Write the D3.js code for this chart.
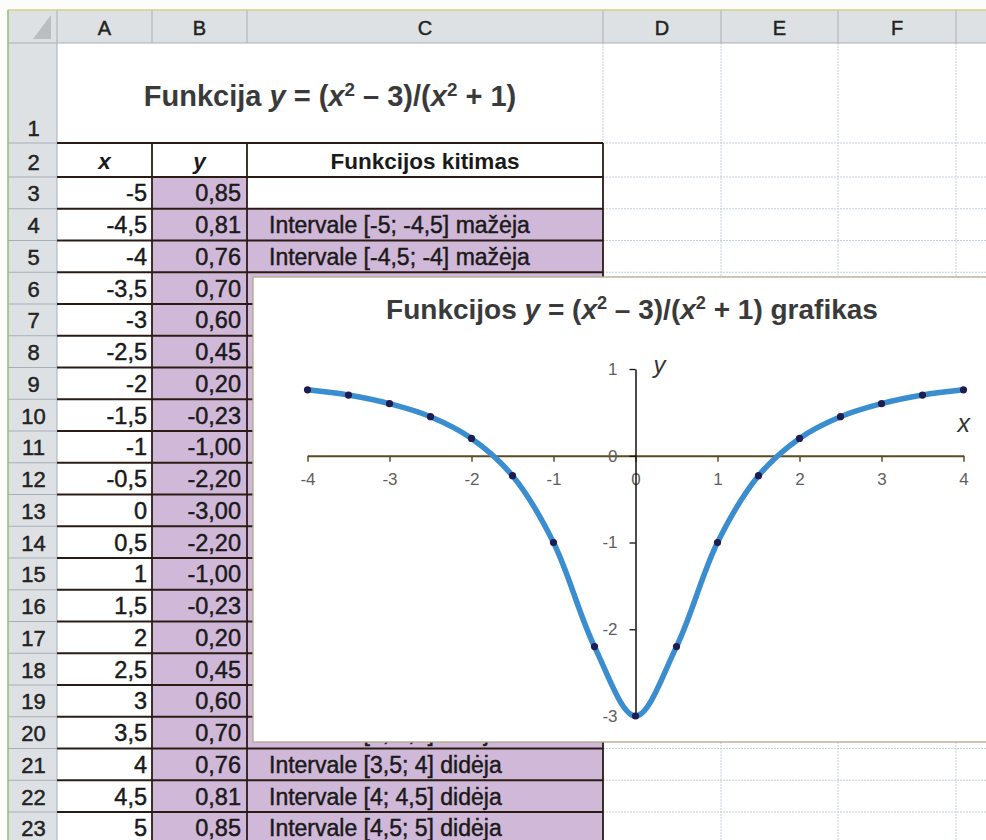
<!DOCTYPE html>
<html>
<head>
<meta charset="utf-8">
<script src="https://cdn.jsdelivr.net/npm/d3@7"></script>
<style>
  body { margin: 0; background: #ffffff; }
  svg { display: block; }
  text { font-family: "Liberation Sans", Arial, sans-serif; }
  .ink { stroke-width: 0.45px; paint-order: stroke; }
</style>
</head>
<body>
<svg id="sheet" width="986" height="840"></svg>
<script>
// ---- worksheet data ----
const columnLetters = ["A", "B", "C", "D", "E", "F"];
const xValues = [-5, -4.5, -4, -3.5, -3, -2.5, -2, -1.5, -1, -0.5, 0, 0.5, 1, 1.5, 2, 2.5, 3, 3.5, 4, 4.5, 5];
const yValues = [0.85, 0.81, 0.76, 0.70, 0.60, 0.45, 0.20, -0.23, -1.00, -2.20, -3.00, -2.20, -1.00, -0.23, 0.20, 0.45, 0.60, 0.70, 0.76, 0.81, 0.85];
const trendText = [
  "",
  "Intervale [-5; -4,5] mažėja",
  "Intervale [-4,5; -4] mažėja",
  "Intervale [-4; -3,5] mažėja",
  "Intervale [-3,5; -3] mažėja",
  "Intervale [-3; -2,5] mažėja",
  "Intervale [-2,5; -2] mažėja",
  "Intervale [-2; -1,5] mažėja",
  "Intervale [-1,5; -1] mažėja",
  "Intervale [-1; -0,5] mažėja",
  "Intervale [-0,5; 0] mažėja",
  "Intervale [0; 0,5] didėja",
  "Intervale [0,5; 1] didėja",
  "Intervale [1; 1,5] didėja",
  "Intervale [1,5; 2] didėja",
  "Intervale [2; 2,5] didėja",
  "Intervale [2,5; 3] didėja",
  "Intervale [3; 3,5] didėja",
  "Intervale [3,5; 4] didėja",
  "Intervale [4; 4,5] didėja",
  "Intervale [4,5; 5] didėja"
];
const headerLabels = ["x", "y", "Funkcijos kitimas"];

// ---- chart axes ----
const xTicks = [-4, -3, -2, -1, 0, 1, 2, 3, 4];
const yTicks = [-3, -2, -1, 0, 1];

// ---- sheet geometry ----
const W = 986, H = 840;
const sheetLeft = 8, sheetTop = 10, headerBottom = 43, rowHeadRight = 57;
const colEdges = [57, 152, 247, 603, 721, 838, 956, 1074];
const rowCount = 23;
function rowTop(r) {
  if (r === 1) return headerBottom;
  if (r === 2) return 143;
  return 177 + (r - 3) * 31.75;
}
const rowBottom = r => rowTop(r + 1);

// embedded chart frame
const frame = { left: 253, top: 277, width: 800, height: 465 };

const lilac = "#d0b8d9";
const headFill = "#dde1e4";
const headLine = "#a7afb6";
const gridLine = "#c4d0d9";
const border = "#2a1c14";
const ink = "#1a1a1a";

const svg = d3.select("#sheet");
svg.append("rect").attr("width", W).attr("height", H).attr("fill", "#fcfcfb");

// cell area
svg.append("rect").attr("x", rowHeadRight).attr("y", headerBottom)
  .attr("width", W - rowHeadRight).attr("height", H - headerBottom).attr("fill", "#ffffff");

// light gridlines outside the table
const grid = svg.append("g").attr("stroke", gridLine).attr("stroke-width", 1).attr("stroke-dasharray", "2,1");
d3.range(1, rowCount + 1).forEach(r => {
  const yb = rowBottom(r);
  grid.append("line").attr("x1", colEdges[3]).attr("x2", W).attr("y1", yb).attr("y2", yb);
});
colEdges.slice(3).forEach(cx => {
  grid.append("line").attr("x1", cx).attr("x2", cx).attr("y1", headerBottom).attr("y2", H);
});

// column header band
svg.append("rect").attr("x", sheetLeft).attr("y", sheetTop)
  .attr("width", W - sheetLeft).attr("height", headerBottom - sheetTop).attr("fill", headFill);
// row header band
svg.append("rect").attr("x", sheetLeft).attr("y", headerBottom)
  .attr("width", rowHeadRight - sheetLeft).attr("height", H - headerBottom).attr("fill", headFill);

const heads = svg.append("g").attr("stroke", headLine).attr("stroke-width", 1);
colEdges.forEach(cx => heads.append("line").attr("x1", cx).attr("x2", cx).attr("y1", sheetTop).attr("y2", headerBottom));
d3.range(1, rowCount + 1).forEach(r => {
  const yb = rowBottom(r);
  heads.append("line").attr("x1", sheetLeft).attr("x2", rowHeadRight).attr("y1", yb).attr("y2", yb);
});
heads.append("line").attr("x1", sheetLeft).attr("x2", W).attr("y1", headerBottom).attr("y2", headerBottom);
heads.append("line").attr("x1", rowHeadRight).attr("x2", rowHeadRight).attr("y1", headerBottom).attr("y2", H);
svg.append("line").attr("x1", sheetLeft).attr("x2", W).attr("y1", sheetTop).attr("y2", sheetTop)
  .attr("stroke", "#d6cf86").attr("stroke-width", 1.5);
svg.append("line").attr("x1", sheetLeft).attr("x2", sheetLeft).attr("y1", sheetTop).attr("y2", H)
  .attr("stroke", "#93bd72").attr("stroke-width", 1.5);
// select-all triangle
svg.append("path")
  .attr("d", `M${rowHeadRight - 6},${sheetTop + 5} L${rowHeadRight - 6},${headerBottom - 4} L${rowHeadRight - 24},${headerBottom - 4} Z`)
  .attr("fill", "#b9bec2");

// column letters
svg.append("g").selectAll("text").data(columnLetters).join("text")
  .attr("class", "ink").attr("stroke", "#222")
  .attr("x", (d, i) => (colEdges[i] + colEdges[i + 1]) / 2)
  .attr("y", 35)
  .attr("text-anchor", "middle")
  .attr("font-size", 20).attr("fill", "#222")
  .text(d => d);

// row numbers
svg.append("g").selectAll("text").data(d3.range(1, rowCount + 1)).join("text")
  .attr("class", "ink").attr("stroke", "#222")
  .attr("x", (sheetLeft + rowHeadRight) / 2 + 1)
  .attr("y", r => rowBottom(r) - 7.5)
  .attr("text-anchor", "middle")
  .attr("font-size", 22).attr("fill", "#222")
  .text(r => r);

// table fills
const dataRows = d3.range(3, rowCount + 1);
svg.append("g").selectAll("rect").data(dataRows).join("rect")
  .attr("x", colEdges[1]).attr("y", r => rowTop(r))
  .attr("width", colEdges[2] - colEdges[1]).attr("height", r => rowBottom(r) - rowTop(r))
  .attr("fill", lilac);
svg.append("g").selectAll("rect").data(dataRows.slice(1)).join("rect")
  .attr("x", colEdges[2]).attr("y", r => rowTop(r))
  .attr("width", colEdges[3] - colEdges[2]).attr("height", r => rowBottom(r) - rowTop(r))
  .attr("fill", lilac);

// formula text with italic variables and superscripts
function formula(t, head, tail) {
  t.append("tspan").text(head);
  t.append("tspan").attr("font-style", "italic").text("y");
  t.append("tspan").text(" = (");
  t.append("tspan").attr("font-style", "italic").text("x");
  t.append("tspan").attr("font-size", "0.65em").attr("dy", "-0.55em").text("2");
  t.append("tspan").attr("dy", "0.36em").text(" – 3)/(");
  t.append("tspan").attr("font-style", "italic").text("x");
  t.append("tspan").attr("font-size", "0.65em").attr("dy", "-0.55em").text("2");
  t.append("tspan").attr("dy", "0.36em").text(" + 1)" + tail);
}

// table title (row 1)
svg.append("text")
  .attr("x", (colEdges[0] + colEdges[3]) / 2).attr("y", 106)
  .attr("text-anchor", "middle").attr("font-size", 29).attr("font-weight", "bold").attr("fill", "#3a3a3a")
  .call(t => formula(t, "Funkcija ", ""));

// header row
svg.append("g").selectAll("text").data(headerLabels).join("text")
  .attr("x", (d, i) => (colEdges[i] + colEdges[i + 1]) / 2)
  .attr("y", rowBottom(2) - 8)
  .attr("text-anchor", "middle")
  .attr("font-size", 22.5).attr("font-weight", "bold")
  .attr("font-style", (d, i) => i < 2 ? "italic" : "normal")
  .attr("fill", ink)
  .text(d => d);

const comma = v => String(v).replace(".", ",");
svg.append("g").selectAll("text").data(xValues).join("text")
  .attr("class", "ink").attr("stroke", ink)
  .attr("x", colEdges[1] - 5).attr("y", (d, i) => rowBottom(i + 3) - 7.5)
  .attr("text-anchor", "end").attr("font-size", 23.5).attr("fill", ink)
  .text(d => comma(d));
svg.append("g").selectAll("text").data(yValues).join("text")
  .attr("class", "ink").attr("stroke", ink)
  .attr("x", colEdges[2] - 6).attr("y", (d, i) => rowBottom(i + 3) - 7.5)
  .attr("text-anchor", "end").attr("font-size", 23.5).attr("fill", ink)
  .text(d => d.toFixed(2).replace(".", ","));

// column C notes; rows lying wholly under the chart frame are not drawn
const noteRows = trendText
  .map((t, i) => ({ t, base: rowBottom(i + 3) - 7.5 }))
  .filter(d => d.t && (d.base < frame.top + 10 || d.base + 6 > frame.top + frame.height));
svg.append("g").selectAll("text").data(noteRows).join("text")
  .attr("class", "ink").attr("stroke", ink)
  .attr("x", colEdges[2] + 22).attr("y", d => d.base)
  .attr("font-size", 23).attr("fill", ink)
  .text(d => d.t);

// table borders
const tb = svg.append("g").attr("stroke", border).attr("stroke-width", 1.8);
d3.range(2, rowCount + 1).forEach(r => {
  tb.append("line").attr("x1", colEdges[0]).attr("x2", colEdges[3]).attr("y1", rowTop(r)).attr("y2", rowTop(r));
});
colEdges.slice(1, 4).forEach(cx => {
  tb.append("line").attr("x1", cx).attr("x2", cx).attr("y1", rowTop(2)).attr("y2", H);
});

// ---- embedded chart ----
const chart = svg.append("g");
chart.append("rect").attr("x", frame.left).attr("y", frame.top).attr("width", frame.width).attr("height", frame.height)
  .attr("fill", "#ffffff").attr("stroke", "#b3a78e").attr("stroke-width", 1.3);

chart.append("text").attr("x", 632).attr("y", 319)
  .attr("text-anchor", "middle").attr("font-size", 28).attr("font-weight", "bold").attr("fill", "#3a3a3a")
  .call(t => formula(t, "Funkcijos ", " grafikas"));

const x = d3.scaleLinear().domain([-4, 4]).range([307.5, 963.5]);
const y = d3.scaleLinear().domain([-3, 1]).range([716, 369]);

const xAxis = chart.append("g").attr("transform", `translate(0,${y(0)})`)
  .call(d3.axisBottom(x).tickValues(xTicks).tickSize(6).tickPadding(11).tickSizeOuter(0).tickFormat(d => String(d)));
xAxis.select(".domain").attr("stroke", "#5c4a22").attr("stroke-width", 2);
xAxis.selectAll(".tick line").attr("stroke", "#5c4a22").attr("stroke-width", 1.5);
xAxis.selectAll(".tick text").attr("font-size", 17).attr("fill", "#5e5e5e").attr("font-family", null);

const yAxis = chart.append("g").attr("transform", `translate(${x(0)},0)`)
  .call(d3.axisLeft(y).tickValues(yTicks).tickSize(6).tickPadding(12).tickSizeOuter(0).tickFormat(d => String(d)));
yAxis.select(".domain").attr("stroke", "#111").attr("stroke-width", 1.5);
yAxis.selectAll(".tick line").attr("stroke", "#111").attr("stroke-width", 1.3);
yAxis.selectAll(".tick text").attr("font-size", 17).attr("fill", "#5e5e5e").attr("font-family", null);

chart.append("text").attr("x", x(0) + 18).attr("y", y(1) + 4)
  .attr("font-size", 24).attr("font-style", "italic").attr("fill", "#333").text("y");
chart.append("text").attr("x", x(4) - 6).attr("y", y(0) - 24)
  .attr("font-size", 25).attr("font-style", "italic").attr("fill", "#333").text("x");

const points = xValues.map((v, i) => ({ x: v, y: yValues[i] })).filter(p => p.x >= -4 && p.x <= 4);
const line = d3.line().x(d => x(d.x)).y(d => y(d.y)).curve(d3.curveCatmullRom.alpha(0.5));
chart.append("path").datum(points).attr("d", line)
  .attr("fill", "none").attr("stroke", "#3a8dcf").attr("stroke-width", 5.5)
  .attr("stroke-linecap", "round").attr("stroke-linejoin", "round");
chart.append("g").selectAll("circle").data(points).join("circle")
  .attr("cx", d => x(d.x)).attr("cy", d => y(d.y)).attr("r", 3.6)
  .attr("fill", "#1e1d52");
</script>
</body>
</html>
